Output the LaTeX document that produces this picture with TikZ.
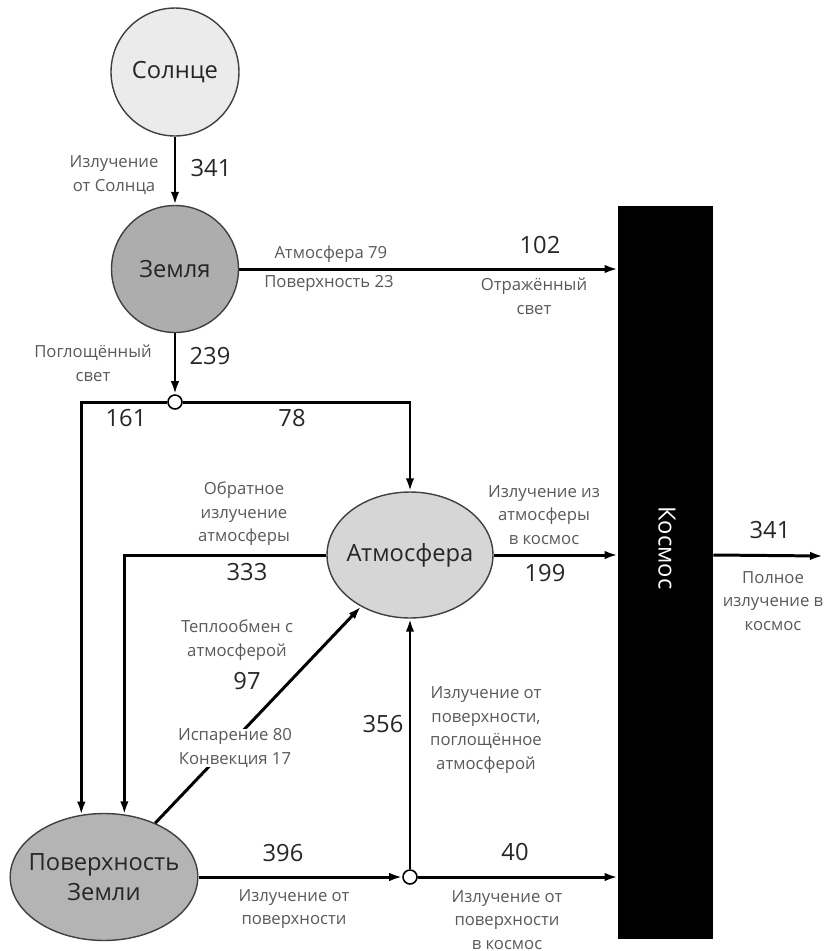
\documentclass[tikz,border=0pt]{standalone}
\usepackage{fontspec}
\setmainfont{Open Sans}
\usetikzlibrary{arrows.meta,shapes.geometric,positioning}
\definecolor{sunfill}{HTML}{EBEBEB}
\definecolor{earthfill}{HTML}{ADADAD}
\definecolor{atmfill}{HTML}{D6D6D6}
\definecolor{surffill}{HTML}{B4B4B4}

\begin{document}
\begin{tikzpicture}[x=0.02cm,y=-0.02cm,
    body/.style={draw=black!75,line width=0.8pt,font=\fontsize{13.5}{17}\selectfont,text=black!85,align=center,inner sep=0pt},
    junction/.style={circle,draw=black,line width=0.9pt,fill=white,minimum size=0.28cm,inner sep=0pt},
    flow/.style={line width=1.7pt,-{Latex[length=2.6mm,width=1.7mm]}},
    lbl/.style={font=\fontsize{9.5}{13.4}\selectfont,text=black!65,align=center,inner sep=1pt},
    num/.style={font=\fontsize{13.5}{16}\selectfont,text=black!85}]
        \useasboundingbox (0,0) rectangle (823,951);

        \node[body,circle,fill=sunfill,minimum size=2.56cm] at (175,72) (sun){Солнце};
        \node[body,circle,fill=earthfill,minimum size=2.54cm] at (175,269) (earth){Земля};
        \node[body,ellipse,fill=atmfill,inner xsep=-0.12cm,minimum width=3.32cm,minimum height=2.52cm] at (410,555) (atm){Атмосфера};
        \node[body,ellipse,fill=surffill,inner xsep=-0.18cm,minimum width=3.74cm,minimum height=2.54cm] at (104,877) (surf){Поверхность\\Земли};
        \node[fill=black,minimum width=1.9cm,minimum height=14.66cm,inner sep=0pt] at (665.5,572.5) (space){};
        \node[rotate=-90,text=white,font=\fontsize{13.5}{16}\selectfont] at (667,548) (spacetext){Космос};
        \node[junction] at (175,402) (split){};
        \node[junction] at (410,877) (fork){};
        \coordinate (exit) at (823,556);

        \draw[flow] (sun) -- (earth);
        \draw[flow] (earth) -- (earth -| space.west);
        \draw[flow] (earth) -- (split);
        \draw[flow] (split) -| (surf.110);
        \draw[flow] (split) -| (atm.north);
        \draw[flow] (atm.west) -| (surf.72);
        \draw[flow] (surf) -- (atm);
        \draw[flow] (surf) -- (fork);
        \draw[flow] (fork) -- (atm.south);
        \draw[flow] (fork) -- (fork -| space.west);
        \draw[flow] (atm) -- (atm -| space.west);
        \draw[flow] (space.east |- atm) -- (exit);

        \node[lbl] at (114,175) (sunlbl){Излучение\\от Солнца};
        \node[num] at (211,168) (sunnum){341};
        \node[lbl] at (331,254) (refatm){Атмосфера 79};
        \node[lbl] at (329,283) (refsurf){Поверхность 23};
        \node[num] at (540,245) (refnum){102};
        \node[lbl] at (534,296) (reflbl){Отражённый\\свет};
        \node[lbl] at (93,363) (abslbl){Поглощённый\\свет};
        \node[num] at (210,356) (absnum){239};
        \node[num] at (126,418) (downnum){161};
        \node[num] at (292,418) (atmnum){78};
        \node[lbl] at (244,514) (backlbl){Обратное\\излучение\\атмосферы};
        \node[num] at (247,572) (backnum){333};
        \node[lbl] at (237,640) (heatlbl){Теплообмен с\\атмосферой};
        \node[num] at (247,681) (heatnum){97};
        \node[lbl,fill=white,inner sep=0pt] at (235,748) (evaplbl){Испарение 80\\Конвекция 17};
        \node[num] at (383,724) (absorbnum){356};
        \node[lbl] at (486,730) (absorblbl){Излучение от\\поверхности,\\поглощённое\\атмосферой};
        \node[lbl] at (544,515) (emitlbl){Излучение из\\атмосферы\\в космос};
        \node[num] at (545,573) (emitnum){199};
        \node[num] at (770,530) (totalnum){341};
        \node[lbl] at (773,601) (totallbl){Полное\\излучение в\\космос};
        \node[num] at (283,853) (surfnum){396};
        \node[lbl] at (294,909) (surflbl){Излучение от\\поверхности};
        \node[num] at (515,852) (windownum){40};
        \node[lbl] at (507,920) (windowlbl){Излучение от\\поверхности\\в космос};
    \end{tikzpicture}
\end{document}
